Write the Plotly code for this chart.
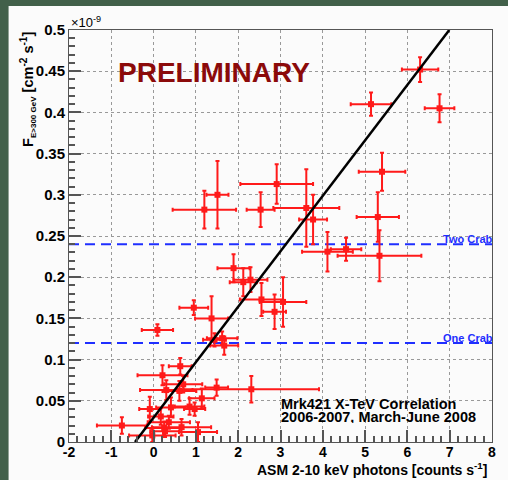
import plotly.graph_objects as go

# ASM count rate (x) vs. integral flux above 300 GeV (y, units of 1e-9 cm^-2 s^-1)
asm_rate = [6.30, 5.14, 6.76, 5.40, 5.30, 5.34, 4.11, 4.55,
            1.20, 1.51, 2.91, 2.53, 3.61, 3.77,
            1.89, 2.12, 2.29, 2.55, 3.06, 2.86, 0.95, 1.37, 0.09,
            1.44, 1.62, 1.67,
            0.63, 0.21, 0.30, 0.61, 0.70, 1.49, 2.31, -0.09, 0.17, 0.41,
            0.85, 0.97, 1.14, -0.75, 0.36, 0.25, 0.66, 1.05, -0.03, 0.27]
asm_err = [0.43, 0.48, 0.35, 0.55, 0.50, 0.99, 0.60, 0.36,
           0.75, 0.26, 0.86, 0.33, 0.78, 0.33,
           0.38, 0.32, 0.40, 0.51, 0.55, 0.27, 0.34, 0.39, 0.37,
           0.27, 0.36, 0.33,
           0.27, 0.59, 0.62, 0.40, 0.45, 0.27, 1.60, 0.25, 0.30, 0.35,
           0.35, 0.25, 0.30, 0.59, 0.50, 0.45, 0.70, 0.45, 0.55, 0.35]
flux = [0.452, 0.410, 0.405, 0.328, 0.273, 0.226, 0.231, 0.234,
        0.282, 0.300, 0.313, 0.282, 0.284, 0.270,
        0.211, 0.194, 0.197, 0.173, 0.170, 0.158, 0.163, 0.150, 0.136,
        0.124, 0.126, 0.117,
        0.092, 0.081, 0.063, 0.062, 0.070, 0.066, 0.064, 0.040, 0.031, 0.042,
        0.043, 0.040, 0.053, 0.020, 0.024, 0.017, 0.018, 0.012, 0.008, 0.013]
flux_err = [0.015, 0.014, 0.017, 0.023, 0.030, 0.031, 0.024, 0.014,
            0.023, 0.041, 0.024, 0.021, 0.047, 0.030,
            0.017, 0.017, 0.015, 0.020, 0.030, 0.021, 0.009, 0.027, 0.007,
            0.008, 0.008, 0.011,
            0.010, 0.012, 0.012, 0.012, 0.010, 0.010, 0.016, 0.015, 0.010, 0.012,
            0.010, 0.008, 0.012, 0.010, 0.008, 0.008, 0.010, 0.012, 0.008, 0.007]

# linear fit end points
fit_x = [-0.44, 6.99]
fit_y = [0.0, 0.5]

# Crab reference levels
crab_levels = [0.24, 0.12]
crab_labels = ["Two Crab", "One Crab"]

x_ticks = [-2, -1, 0, 1, 2, 3, 4, 5, 6, 7, 8]
x_tick_text = ["-2", "-1", "0", "1", "2", "3", "4", "5", "6", "7", "8"]
y_ticks = [0, 0.05, 0.1, 0.15, 0.2, 0.25, 0.3, 0.35, 0.4, 0.45, 0.5]
y_tick_text = ["0", "0.05", "0.1", "0.15", "0.2", "0.25", "0.3", "0.35", "0.4", "0.45", "0.5"]

W, H = 508, 480
ML, MR, MT, MB = 69, 12, 30, 38
PW, PH = W - ML - MR, H - MT - MB


def px_x(p):
    return (p - ML) / PW


def px_y(p):
    return (H - MB - p) / PH


FONT = "Liberation Sans"
RED = "#ff1a1a"
BLUE = "#1f2fff"

fig = go.Figure()

for lvl in crab_levels:
    fig.add_trace(go.Scatter(
        x=[-2, 8], y=[lvl, lvl], mode="lines",
        line=dict(color=BLUE, width=2, dash="10px,6px"),
        hoverinfo="skip", showlegend=False))

fig.add_trace(go.Scatter(
    x=asm_rate, y=flux, mode="markers",
    marker=dict(symbol="square", size=6, color=RED),
    error_x=dict(type="data", array=asm_err, color=RED, thickness=2, width=2),
    error_y=dict(type="data", array=flux_err, color=RED, thickness=2, width=2),
    showlegend=False))

fig.add_trace(go.Scatter(
    x=fit_x, y=fit_y, mode="lines",
    line=dict(color="black", width=2.5), showlegend=False))

annotations = [
    dict(text="PRELIMINARY", x=px_x(116), y=px_y(73), xanchor="left", yanchor="middle",
         font=dict(family=FONT, size=28, color="#8b0a0a", weight="bold")),
    dict(text="Mrk421 X-TeV Correlation",
         x=px_x(281), y=px_y(404), xanchor="left", yanchor="middle", height=12,
         font=dict(family=FONT, size=14.5, color="black", weight="bold")),
    dict(text="2006-2007, March-June 2008",
         x=px_x(281), y=px_y(417), xanchor="left", yanchor="middle", height=12,
         font=dict(family=FONT, size=14.5, color="black", weight="bold")),
    dict(text="×10<sup>-9</sup>", x=0, y=px_y(22), xanchor="left", yanchor="middle",
         font=dict(family=FONT, size=13, color="black")),
    dict(text='F<sub><span style="font-size:8px">E>300 GeV</span></sub> '
              '[cm<sup>-2</sup> s<sup>-1</sup>]',
         x=px_x(27), y=1, xanchor="center", yanchor="top", textangle=-90,
         font=dict(family=FONT, size=14.5, color="black", weight="bold")),
    dict(text="ASM 2-10 keV photons [counts s<sup>-1</sup>]",
         x=px_x(493), y=px_y(469), xanchor="right", yanchor="middle",
         font=dict(family=FONT, size=14, color="black", weight="bold")),
]
for lvl, lab in zip(crab_levels, crab_labels):
    annotations.append(dict(
        text=lab, x=1, y=lvl, yref="y", xanchor="right", yanchor="bottom",
        xshift=3, yshift=-3, font=dict(family=FONT, size=11, color=BLUE, weight="bold")))
for a in annotations:
    a.setdefault("xref", "paper")
    a.setdefault("yref", "paper")
    a["showarrow"] = False

fig.update_layout(
    width=W, height=H,
    margin=dict(l=ML, r=MR, t=MT, b=MB, pad=0),
    paper_bgcolor="#42604a",
    plot_bgcolor="#fbfbfb",
    annotations=annotations,
    shapes=[dict(type="rect", xref="paper", yref="paper", layer="below",
                 x0=px_x(8), x1=px_x(W + 5), y0=px_y(H + 5), y1=px_y(6),
                 fillcolor="#fbfbfb", line=dict(width=0))],
)

axis_common = dict(
    showline=True, linecolor="#555", linewidth=1, mirror=True,
    ticks="inside", ticklen=12, tickcolor="#555", tickwidth=1.5,
    showgrid=True, gridcolor="#999", griddash="dot", gridwidth=1,
    zeroline=False,
)

fig.update_xaxes(range=[-2, 8], tickvals=x_ticks, ticktext=x_tick_text,
                 tickfont=dict(family=FONT, size=14, color="black", weight="bold"),
                 minor=dict(ticks="inside", ticklen=6, dtick=0.2, tickcolor="#555", showgrid=False),
                 ticklabelstandoff=-3, **axis_common)
fig.update_yaxes(range=[0, 0.5], tickvals=y_ticks, ticktext=y_tick_text,
                 tickfont=dict(family=FONT, size=15, color="black", weight="bold"),
                 minor=dict(ticks="inside", ticklen=6, dtick=0.01, tickcolor="#555", showgrid=False),
                 **axis_common)

fig.write_html("out.html")
